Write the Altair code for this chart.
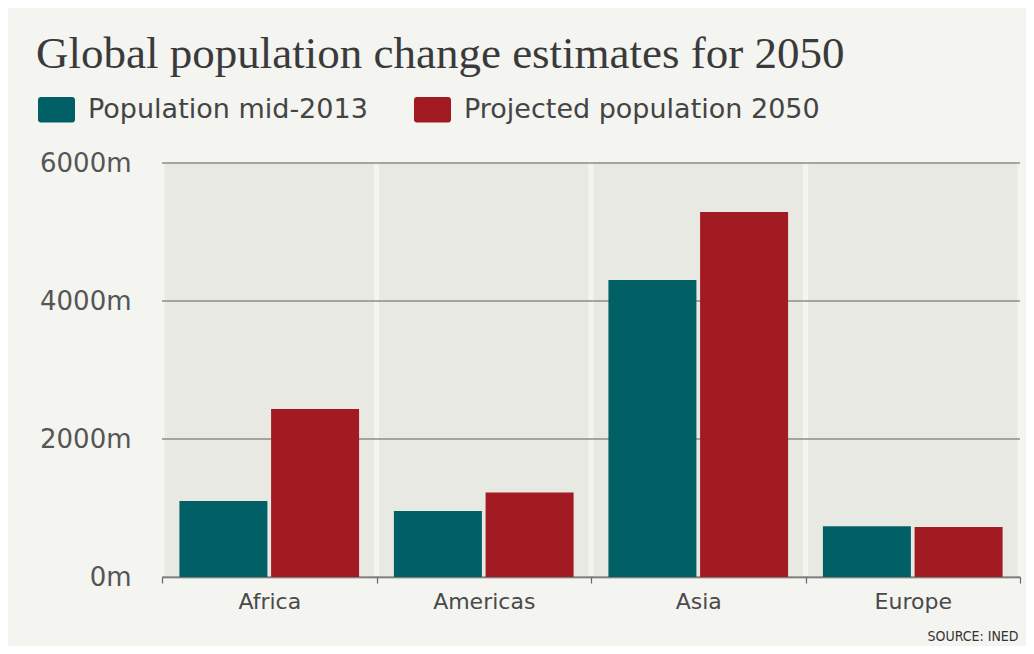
import altair as alt
import pandas as pd

regions = ["Africa", "Americas", "Asia", "Europe"]
series = ["Population mid-2013", "Projected population 2050"]
pop_2013 = [1100, 958, 4305, 735]
pop_2050 = [2435, 1225, 5290, 726]
y_ticks = [0, 2000, 4000, 6000]
colors = ["#006066", "#a31b22"]

rows = []
for i, r in enumerate(regions):
    rows.append({"region": r, "series": series[0], "value": pop_2013[i]})
    rows.append({"region": r, "series": series[1], "value": pop_2050[i]})
df = pd.DataFrame(rows)
bg_df = pd.DataFrame({"region": regions, "value": [max(y_ticks)] * len(regions), "bottom": [0] * len(regions)})
grid_df = pd.DataFrame({"value": y_ticks})

yscale = alt.Scale(domain=[0, max(y_ticks)], nice=False)
xscale = alt.Scale(domain=regions, paddingInner=0, paddingOuter=0)

x_axis = alt.Axis(
    title="SOURCE: INED", titleFont="DejaVu Sans Condensed", titleFontSize=14,
    titleFontWeight="normal", titleColor="#333333", titleAlign="right",
    titleBaseline="alphabetic", titleX=856, titleY=63,
    labelAngle=0, labelFont="DejaVu Sans", labelFontSize=22, labelColor="#4a4a4a",
    labelPadding=8, tickBand="extent", tickSize=6, tickColor="#666666",
    domainColor="#555555", domainWidth=1.5, tickWidth=1.2,
)
y_axis = alt.Axis(
    title=None, values=y_ticks, labelExpr="datum.value + 'm'", ticks=False, domain=False,
    grid=False, labelFont="DejaVu Sans", labelFontSize=26, labelColor="#555555", labelPadding=31,
)

background = alt.Chart(bg_df).mark_bar(color="#e9e9e4", width=alt.RelativeBandSize(0.976)).encode(
    x=alt.X("region:N", scale=xscale, sort=regions, axis=x_axis),
    y=alt.Y("value:Q", scale=yscale, axis=y_axis),
    y2="bottom:Q",
)

grid = alt.Chart(grid_df).mark_rule(color="#8c8c88", strokeWidth=1.6).encode(
    y=alt.Y("value:Q", scale=yscale, axis=y_axis)
)

path = ("M-0.85,-0.69 H0.85 A0.15,0.15 0 0 1 1,-0.54 V0.54 A0.15,0.15 0 0 1 0.85,0.69 "
        "H-0.85 A0.15,0.15 0 0 1 -1,0.54 V-0.54 A0.15,0.15 0 0 1 -0.85,-0.69 Z")

bars = alt.Chart(df).mark_bar().encode(
    x=alt.X("region:N", scale=xscale, sort=regions, axis=x_axis),
    xOffset=alt.XOffset("series:N", sort=series, scale=alt.Scale(paddingInner=0.04, paddingOuter=0.19)),
    y=alt.Y("value:Q", scale=yscale, axis=y_axis),
    color=alt.Color(
        "series:N", sort=series, scale=alt.Scale(domain=series, range=colors),
        legend=alt.Legend(
            title=None, orient="none", legendX=-124, legendY=-72, direction="horizontal",
            symbolType=path, symbolSize=1369, symbolStrokeWidth=0, symbolOpacity=1,
            labelFont="DejaVu Sans", labelFontSize=27, labelColor="#444444", labelLimit=500,
            labelOffset=13, columnPadding=46, padding=0,
        ),
    ),
)

chart = alt.layer(background, grid, bars).properties(
    width=858,
    height=414,
    autosize=alt.AutoSizeParams(type="none"),
    padding={"left": 154, "top": 155, "right": 6, "bottom": 69},
    title=alt.TitleParams(
        "Global population change estimates for 2050",
        font="Liberation Serif", fontSize=45, fontWeight="normal", color="#3a3a3a",
        anchor="start", frame="group", baseline="alphabetic", dx=-126, dy=22, offset=0,
    ),
).configure(background="#f4f4f0").configure_view(stroke=None)

chart.save("out.html", embed_options={"renderer": "svg", "actions": False})
